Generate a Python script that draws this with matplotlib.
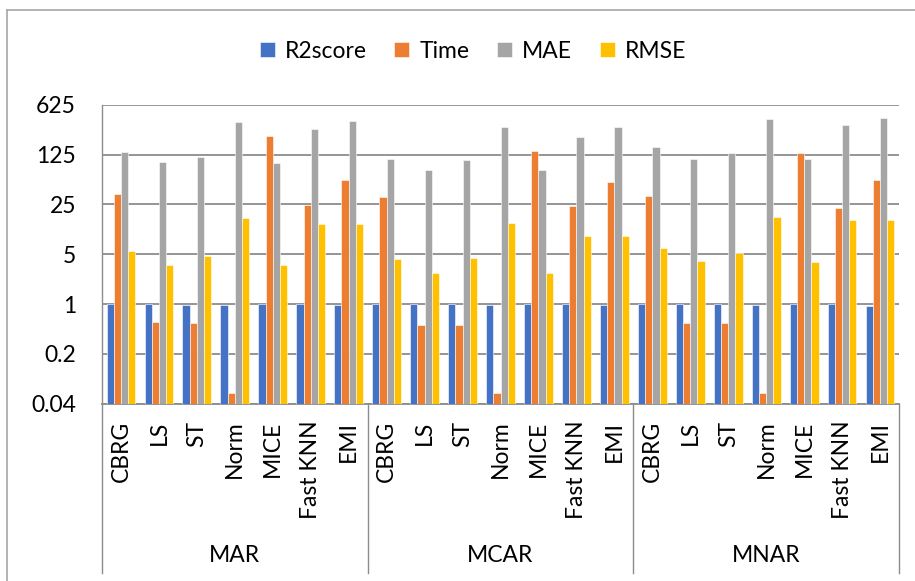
import matplotlib
matplotlib.use("Agg")
import matplotlib.pyplot as plt
import matplotlib.transforms as mtransforms
from matplotlib.lines import Line2D
from matplotlib.ticker import FixedLocator, NullLocator
import numpy as np

plt.rcParams['font.family'] = ['Lato', 'DejaVu Sans']

# mechanisms and imputation methods
groups = ["MAR", "MCAR", "MNAR"]
methods = ["CBRG", "LS", "ST", "Norm", "MICE", "Fast KNN", "EMI"]

# one value per (group, method), MAR first, then MCAR, then MNAR
r2score = [1.0, 1.0, 0.97, 0.955, 1.0, 1.0, 0.955,
           1.0, 1.0, 1.0, 0.955, 1.0, 1.0, 0.955,
           1.0, 1.0, 1.0, 0.955, 1.0, 1.0, 0.948]
time_s = [34.9, 0.56, 0.536, 0.057, 225.6, 24.3, 54.8,
          32.0, 0.514, 0.514, 0.056, 140.6, 23.4, 51.3,
          32.7, 0.536, 0.536, 0.057, 130.5, 22.5, 54.8]
mae = [134.9, 97.7, 114.7, 354.0, 94.5, 282.0, 369.0,
       107.7, 74.7, 104.8, 307.0, 74.7, 220.0, 301.0,
       158.0, 109.8, 130.5, 394.0, 109.8, 329.0, 411.0]
rmse = [5.5, 3.51, 4.69, 15.95, 3.51, 13.1, 13.1,
        4.31, 2.71, 4.49, 13.7, 2.71, 8.9, 8.9,
        6.1, 3.95, 5.2, 16.8, 3.91, 15.1, 15.1]

series = [("R2score", r2score, "#4472C4"),
          ("Time", time_s, "#ED7D31"),
          ("MAE", mae, "#A5A5A5"),
          ("RMSE", rmse, "#FFC000")]

yticks = [0.04, 0.2, 1, 5, 25, 125, 625]
ytick_labels = ["0.04", "0.2", "1", "5", "25", "125", "625"]

W, H = 915, 581
FS = 16.5
fig = plt.figure(figsize=(W / 100, H / 100), dpi=100)

left, right, top, bottom = 102, 899, 104.7, 403.7
ax = fig.add_axes([left / W, 1 - bottom / H, (right - left) / W, (bottom - top) / H])

n = len(groups) * len(methods)
x = np.arange(n)
bw = 0.19
offsets = (np.arange(4) - 1.5) * bw
for (name, vals, color), off in zip(series, offsets):
    ax.bar(x + off, vals, width=bw, color=color, label=name,
           edgecolor="white", linewidth=0.4, zorder=3)

ax.set_yscale("log", base=5)
ax.set_ylim(0.04, 625)
ax.set_xlim(-0.5, n - 0.5)
ax.yaxis.set_major_locator(FixedLocator(yticks))
ax.yaxis.set_minor_locator(NullLocator())
ax.set_yticklabels(ytick_labels)
ax.tick_params(axis="y", length=0, pad=18.7, labelsize=FS)
ax.tick_params(axis="x", length=0, labelbottom=False)
ax.grid(axis="y", color="#8C8C8C", linewidth=1.3, zorder=0)

for s in ["top", "right"]:
    ax.spines[s].set_visible(False)
ax.spines["left"].set_color("#8C8C8C")
ax.spines["bottom"].set_color("#8C8C8C")
ax.spines["left"].set_linewidth(1.0)
ax.spines["bottom"].set_linewidth(1.3)

# two-level category axis below the plot
trans = mtransforms.blended_transform_factory(ax.transData, ax.transAxes)
px = 1.0 / (bottom - top)
for i in range(n):
    ax.text(i, -17 * px, methods[i % len(methods)], transform=trans,
            rotation=90, ha="center", va="top", fontsize=FS, color="black")
for g, name in enumerate(groups):
    mid = g * len(methods) + (len(methods) - 1) / 2
    ax.text(mid, -(556 - bottom) * px, name, transform=trans,
            ha="center", va="center", fontsize=FS, color="black")
for g in range(len(groups) + 1):
    xb = g * len(methods) - 0.5
    ax.add_line(Line2D([xb, xb], [0, -(573 - bottom) * px], transform=trans,
                       color="#8C8C8C", linewidth=1.0, clip_on=False))

# outer chart frame
fig.add_artist(Line2D([7 / W, 7 / W], [0, 1 - 10 / H], color="#A6A6A6", linewidth=1.2))
fig.add_artist(Line2D([7 / W, 1], [1 - 10 / H, 1 - 10 / H], color="#A6A6A6", linewidth=1.2))

fig.legend(loc="center", bbox_to_anchor=(473 / W, 1 - 51 / H), ncol=4,
           frameon=False, fontsize=FS, handlelength=0.65, handleheight=0.65,
           handletextpad=0.45, columnspacing=1.2)

fig.savefig("out.png", dpi=100)
